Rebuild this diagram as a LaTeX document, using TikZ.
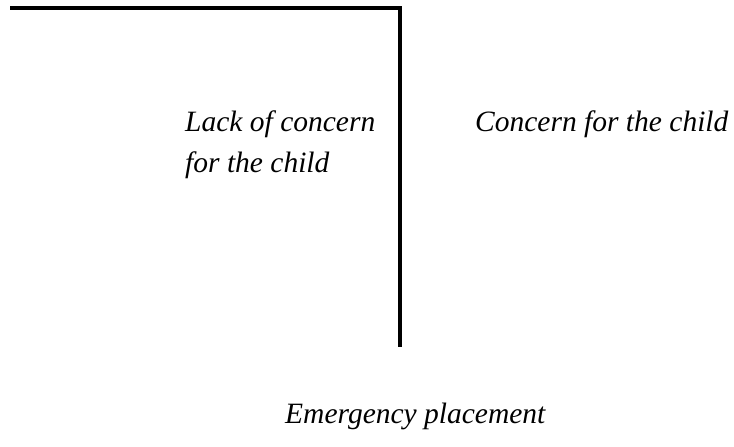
\documentclass[tikz,border=0pt]{standalone}
\usepackage{fontspec}
\setmainfont{Liberation Serif}
\begin{document}
\begin{tikzpicture}[x=1pt,y=-1pt,
  lbl/.style={font=\fontsize{29.5}{49}\selectfont\itshape, inner sep=0pt, anchor=base west, align=left},
  rule/.style={line width=4pt}]
\useasboundingbox (0,0) rectangle (734,447);
\coordinate (a) at (10,8);
\coordinate (b) at (399.5,8);
\coordinate (c) at (399.5,347);
\draw[rule] (a) -- (b.center) -- (c);
\node[lbl] (lack) at (185,131) {Lack of concern};
\node[lbl] (forc) at (185,172) {for the child};
\node[lbl] (conc) at (475,131) {Concern for the child};
\node[lbl] (emerg) at (285,423) {Emergency placement};
\end{tikzpicture}
\end{document}
